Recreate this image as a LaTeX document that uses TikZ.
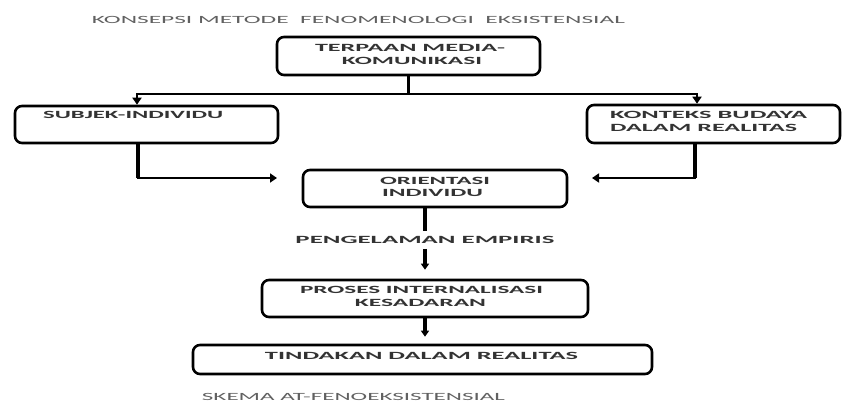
\documentclass[tikz,border=0pt]{standalone}
\usepackage{fontspec}
\setmainfont{Carlito}
\usepackage{graphicx}
\usetikzlibrary{arrows.meta}
% stretch a line of text to a given width (in pt), keeping its height
\newcommand{\hstretch}[2]{\resizebox{#1pt}{\height}{#2}}
\begin{document}
\begin{tikzpicture}[x=1pt,y=-1pt,
  box/.style={draw=black, line width=2.6pt, rounded corners=7pt, inner sep=0pt},
  lbl/.style={inner sep=0pt, font=\bfseries\fontsize{11}{11}\selectfont, text=black!80},
  headline/.style={inner sep=0pt, font=\fontsize{11}{11}\selectfont, text=black!62},
  conn/.style={draw=black, line width=2.2pt},
  vline/.style={draw=black, line width=3.6pt},
  arr/.style={conn, -{Triangle[length=7pt,width=9pt]}},
  varr/.style={vline, -{Triangle[length=6pt,width=8pt]}}]
\fill[white] (0,0) rectangle (842,403);
\useasboundingbox (0,0) rectangle (842,403);

% boxes
\node[box, minimum width=263pt, minimum height=38pt] (A) at (408.5,56) {};
\node[box, minimum width=263pt, minimum height=37pt] (B) at (146.5,124.5) {};
\node[box, minimum width=253pt, minimum height=38pt] (C) at (713.5,124) {};
\node[box, minimum width=264pt, minimum height=37pt] (D) at (435,188.5) {};
\node[box, minimum width=326pt, minimum height=37pt] (E) at (425,298.5) {};
\node[box, minimum width=459pt, minimum height=29pt] (F) at (422.5,359.5) {};

% texts
\node[headline] (title) at (358.5,19.5) {\hstretch{533}{KONSEPSI METODE\ \ FENOMENOLOGI\ \ EKSISTENSIAL}};
\node[lbl] (a1) at (410,47.5) {\hstretch{190}{TERPAAN MEDIA-}};
\node[lbl] (a2) at (412,60.5) {\hstretch{140}{KOMUNIKASI}};
\node[lbl, anchor=west] (b1) at (43,115) {\hstretch{180}{SUBJEK-INDIVIDU}};
\node[lbl, anchor=west] (c1) at (610,115) {\hstretch{197}{KONTEKS BUDAYA}};
\node[lbl, anchor=west] (c2) at (610,127.5) {\hstretch{187}{DALAM REALITAS}};
\node[lbl] (d1) at (435,181) {\hstretch{110}{ORIENTASI}};
\node[lbl] (d2) at (432.5,193) {\hstretch{101}{INDIVIDU}};
\node[lbl, inner ysep=5pt] (pe) at (425,240) {\hstretch{259}{PENGELAMAN EMPIRIS}};
\node[lbl] (e1) at (421.5,289.5) {\hstretch{243}{PROSES INTERNALISASI}};
\node[lbl] (e2) at (420.5,302.5) {\hstretch{131}{KESADARAN}};
\node[lbl] (f1) at (421.5,356) {\hstretch{313}{TINDAKAN DALAM REALITAS}};
\node[headline] (skema) at (353.5,396.5) {\hstretch{303}{SKEMA AT-FENOEKSISTENSIAL}};

% connectors
\path (A.south) ++(0,18) coordinate (split);
\path ([xshift=-8.5pt]B.south) coordinate (bs);
\path ([xshift=-18.5pt]C.south) coordinate (cs);
\coordinate (dl) at (277,178);
\coordinate (dr) at (592,178);
\draw[vline] (A.south) -- (split);
\draw[arr] (split) -| ([xshift=-9.5pt]B.north);
\draw[arr] (split) -| ([xshift=-16.5pt]C.north);
\draw[arr] (bs) |- (dl);
\draw[arr] (cs) |- (dr);
\draw[vline] (bs) -- (bs |- dl);
\draw[vline] (cs) -- (cs |- dr);
\draw[vline] ([xshift=-10pt]D.south) -- (pe.north);
\draw[varr, shorten >=9pt] (pe.south) -- (E.north);
\draw[varr, shorten >=7pt] (E.south) -- (E.south |- F.north);
\end{tikzpicture}
\end{document}
